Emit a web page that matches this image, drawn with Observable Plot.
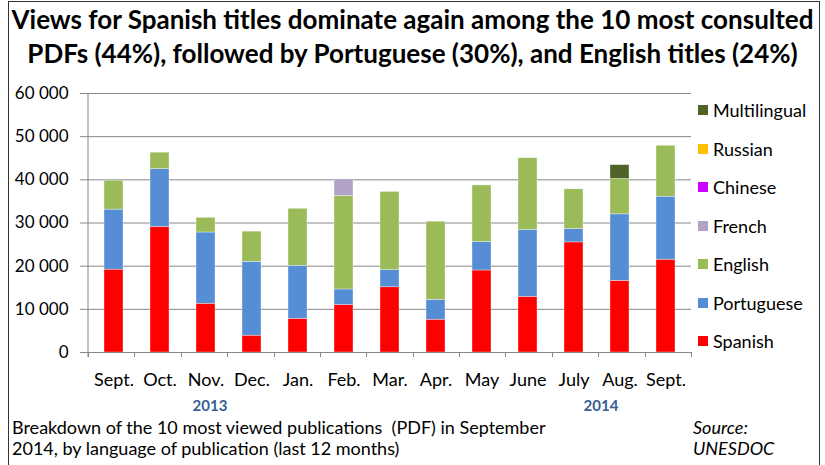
<!DOCTYPE html>
<html><head><meta charset="utf-8">
<script src="https://cdn.jsdelivr.net/npm/d3@7"></script>
<script src="https://cdn.jsdelivr.net/npm/@observablehq/plot@0.6"></script>
<style>
body{margin:0;background:#fff;font-family:Lato,sans-serif;}
#wrap{position:relative;width:825px;height:465px;overflow:hidden;background:#fff}
#frame{position:absolute;left:8px;top:1px;width:812px;height:480px;border:1.5px solid #333;box-sizing:border-box;pointer-events:none}
.t{position:absolute;white-space:nowrap;line-height:1.2;color:#000}
.title{left:0;width:825px;text-align:center;font-weight:bold;font-size:26px}
.cap{font-size:18px}
.year{font-size:15px;font-weight:bold;color:#366092;transform:translateX(-50%)}
.leg{position:absolute;left:698px;display:flex;align-items:center;font-size:18px;height:22px;white-space:nowrap}
.leg span.sw{display:inline-block;width:10px;height:10px;margin-right:5px}
#chart{position:absolute;left:0;top:0}
</style>
</head><body>
<div id="wrap">
  <div id="chart"></div>
  <div class="t title" style="top:4px">Views for Spanish titles dominate again among the 10 most consulted</div>
  <div class="t title" style="top:38px">PDFs (44%), followed by Portuguese (30%), and English titles (24%)</div>
  <div id="years"></div>
  <div class="t cap" style="left:12px;top:417px">Breakdown of the 10 most viewed publications&nbsp; (PDF) in September</div>
  <div class="t cap" style="left:12px;top:438px">2014, by language of publication (last 12 months)</div>
  <div class="t cap" style="left:693px;top:417px;font-style:italic">Source:</div>
  <div class="t cap" style="left:693px;top:438px;font-style:italic">UNESDOC</div>
  <div id="legend"></div>
  <div id="frame"></div>
</div>
<script>
const months = ["Sept.","Oct.","Nov.","Dec.","Jan.","Feb.","Mar.","Apr.","May","June","July","Aug.","Sept."];
const languages = ["Spanish","Portuguese","English","French","Chinese","Russian","Multilingual"];
const colors = ["#FF0000","#558ED5","#9BBB59","#B3A2C7","#CC00FF","#FFC000","#4F6228"];
const spanish      = [19200,29100,11300,3900,7800,11000,15100,7600,19000,12900,25500,16600,21500];
const portuguese   = [13900,13400,16500,17100,12300,3600,4000,4600,6600,15500,3100,15400,14600];
const english      = [6700,3800,3400,7000,13200,21700,18100,18100,13100,16600,9200,8200,11800];
const french       = [0,0,0,0,0,3800,0,0,0,0,0,0,0];
const chinese      = [0,0,0,0,0,0,0,0,0,0,0,0,0];
const russian      = [0,0,0,0,0,0,0,0,0,0,0,0,0];
const multilingual = [0,0,0,0,0,0,0,0,0,0,0,3200,0];
const yTicks = [0,10000,20000,30000,40000,50000,60000];
const yearLabels = ["2013","2014"];

const series = [spanish,portuguese,english,french,chinese,russian,multilingual];
const keys = months.map((m,i)=>m+"|"+i);
const data = [];
languages.forEach((lang,li)=>{
  series[li].forEach((v,i)=>data.push({key:keys[i], lang, value:v}));
});

function axisLines(index, scales, values, dims){
  const g = d3.create("svg:g").attr("stroke","#868686").attr("stroke-width",1);
  const l = dims.marginLeft, r = dims.width - dims.marginRight;
  const b = dims.height - dims.marginBottom, t = dims.marginTop;
  g.append("line").attr("x1",l).attr("x2",l).attr("y1",t).attr("y2",b+5);
  const step = (r-l)/keys.length;
  for(let i=0;i<=keys.length;i++){
    const x = Math.round(l+i*step)+0.5;
    g.append("line").attr("x1",x).attr("x2",x).attr("y1",b).attr("y2",b+5);
  }
  return g.node();
}

const fmt = d => d3.format(",")(d).replace(/,/g," ");

const plot = Plot.plot({
  width:825, height:400,
  marginLeft:88, marginRight:134, marginTop:93, marginBottom:48,
  style:{fontFamily:"Lato, sans-serif", fontSize:"17px", color:"#000", background:"transparent"},
  x:{domain:keys, paddingInner:0.59, paddingOuter:0.295, label:null},
  y:{domain:[0,60000], label:null},
  color:{domain:languages, range:colors},
  marks:[
    Plot.gridY(yTicks,{stroke:"#868686", strokeOpacity:1}),
    Plot.barY(data,{x:"key", y:"value", fill:"lang", stroke:"#fff", strokeWidth:0.5, strokeOpacity:0.7}),
    Plot.ruleY([0],{stroke:"#868686"}),
    axisLines,
    Plot.axisY(yTicks,{tickSize:8, tickPadding:12, tickFormat:fmt, label:null, stroke:"#868686", fill:"#000", fontSize:17}),
    Plot.axisX({tickSize:0, tickPadding:21, tickFormat:k=>k.split("|")[0], label:null, fill:"#000", fontSize:18})
  ]
});
document.getElementById("chart").appendChild(plot);

// year labels
const yearPos = [210, 601];
const yearsDiv = document.getElementById("years");
yearLabels.forEach((y,i)=>{
  const d = document.createElement("div");
  d.className = "t year";
  d.style.left = yearPos[i]+"px";
  d.style.top = "396px";
  d.textContent = y;
  yearsDiv.appendChild(d);
});

// legend
const legendTops = [110,149,187,226,264,303,341];
const legend = document.getElementById("legend");
languages.slice().reverse().forEach((lang,i)=>{
  const li = languages.indexOf(lang);
  const d = document.createElement("div");
  d.className = "leg";
  d.style.top = (legendTops[i]-11)+"px";
  d.innerHTML = `<span class="sw" style="background:${colors[li]}"></span>${lang}`;
  legend.appendChild(d);
});
</script>
</body></html>
